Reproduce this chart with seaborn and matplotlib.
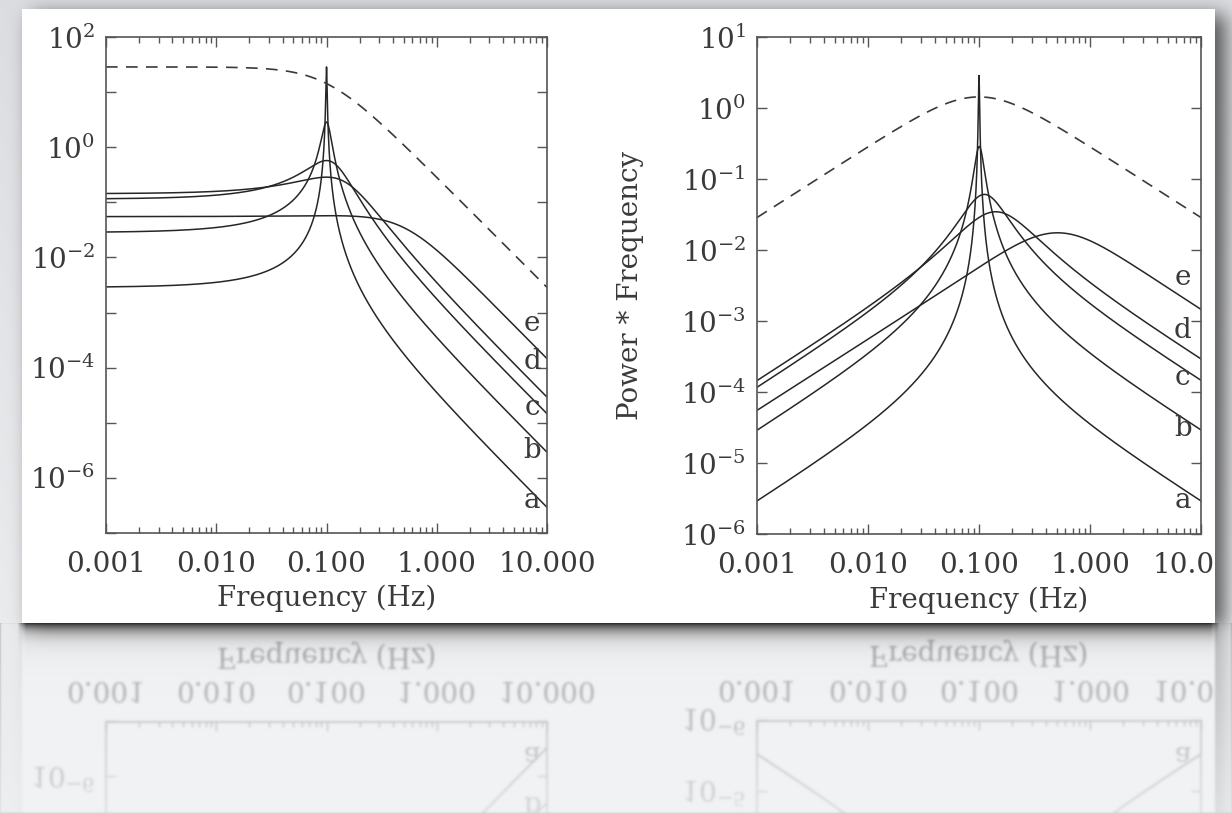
import numpy as np
import pandas as pd
import matplotlib
matplotlib.use("Agg")
import matplotlib.pyplot as plt
from matplotlib.ticker import LogLocator, NullLocator, NullFormatter
import seaborn as sns

# ---------------------------------------------------------------------------
# Lorentzian components a-e (centroid, half width at half maximum, rms^2)
curve_names = ["a", "b", "c", "d", "e"]
centroid_hz = [0.1, 0.1, 0.1, 0.1, 0.1]
half_width_hz = [0.001, 0.01, 0.05, 0.1, 0.5]
rms_squared = [0.09, 0.09, 0.09, 0.09, 0.09]

# zero-centred broad component (dashed)
broad_centroid_hz = 0.0
broad_half_width_hz = 0.1
broad_rms_squared = 9.0

# axes
freq_limits = (1e-3, 1e1)
x_tick_values = [0.001, 0.01, 0.1, 1.0, 10.0]
x_tick_labels = ["0.001", "0.010", "0.100", "1.000", "10.000"]
left_y_exponents = (-7, 2)
left_y_labelled = [2, 0, -2, -4, -6]
right_y_exponents = (-6, 1)
right_y_labelled = [1, 0, -1, -2, -3, -4, -5, -6]
x_label = "Frequency (Hz)"
right_y_label = "Power * Frequency"

# curve tags near the right edge (axes fraction heights)
left_tag_y = [0.066, 0.167, 0.254, 0.345, 0.423]
right_tag_y = [0.068, 0.213, 0.314, 0.410, 0.517]

# ---------------------------------------------------------------------------
W, H = 1232, 813
CARD = dict(left=22, right=1215, top=10, bottom=623)

sns.set_style("ticks")
plt.rcParams["font.family"] = ["DejaVu Serif"]
plt.rcParams["mathtext.fontset"] = "dejavuserif"

INK = "#262626"
FRAME = "#555555"
TEXT = "#3a3a3a"


def lorentzian(nu, nu0, hw, r2):
    return r2 * hw / np.pi / (hw ** 2 + (nu - nu0) ** 2)


freq = np.logspace(np.log10(freq_limits[0]), np.log10(freq_limits[1]), 4001)
rows = []
for name, nu0, hw, r2 in zip(curve_names, centroid_hz, half_width_hz, rms_squared):
    p = lorentzian(freq, nu0, hw, r2)
    rows.append(pd.DataFrame({"curve": name, "freq": freq, "power": p,
                              "nupower": freq * p}))
components = pd.concat(rows, ignore_index=True)
bp = lorentzian(freq, broad_centroid_hz, broad_half_width_hz, broad_rms_squared)
broad = pd.DataFrame({"freq": freq, "power": bp, "nupower": freq * bp})


def gauss_blur(img, sigma):
    r = int(3 * sigma) + 1
    k = np.exp(-0.5 * (np.arange(-r, r + 1) / sigma) ** 2)
    k /= k.sum()
    out = np.apply_along_axis(lambda v: np.convolve(v, k, mode="same"), 0, img)
    out = np.apply_along_axis(lambda v: np.convolve(v, k, mode="same"), 1, out)
    return out


# backdrop: soft grey gradient, drop shadow and the white card
t = np.linspace(0, 1, H)[:, None, None]
top_col = np.array([0.862, 0.866, 0.878])
bot_col = np.array([0.937, 0.941, 0.949])
backdrop = np.repeat((1 - t) * top_col + t * bot_col, W, axis=1)
mask = np.zeros((H, W))
dx, dy = 10, 6
mask[CARD["top"] + dy:CARD["bottom"] + dy, CARD["left"] + dx:CARD["right"] + dx] = 1.0
mask = gauss_blur(mask, 10)
backdrop *= (1 - 0.64 * mask)[..., None]

# tight contact shadow along the card's bottom edge
ys_all = np.arange(H)[:, None]
below = np.clip(ys_all - CARD["bottom"], 0, None)
edge_cols = np.zeros(W)
edge_cols[CARD["left"]:CARD["right"]] = 1.0
edge_cols = np.convolve(edge_cols, np.ones(9) / 9, mode="same")[None, :]
contact = (0.6 * np.exp(-below / 5.0) + 0.12 * np.exp(-below / 16.0)) * edge_cols
contact[:CARD["bottom"]] = 0
backdrop *= (1 - contact)[..., None]
backdrop[CARD["top"]:CARD["bottom"], CARD["left"]:CARD["right"]] = 1.0

fig = plt.figure(figsize=(W / 100, H / 100), dpi=100)
ax_bg = fig.add_axes([0, 0, 1, 1])
ax_bg.imshow(backdrop, aspect="auto", extent=(0, W, H, 0), interpolation="nearest")
ax_bg.set_axis_off()


def frac_box(x0, x1, y0, y1):
    return [x0 / W, (H - y1) / H, (x1 - x0) / W, (y1 - y0) / H]


def style_axes(ax, yexp, labelled):
    ax.set_xscale("log")
    ax.set_yscale("log")
    ax.set_xlim(*freq_limits)
    ax.set_ylim(10.0 ** yexp[0], 10.0 ** yexp[1])
    ax.set_xticks(x_tick_values, labels=x_tick_labels)
    ax.xaxis.set_minor_locator(LogLocator(base=10, subs=np.arange(2, 10)))
    ax.xaxis.set_minor_formatter(NullFormatter())
    exps = list(range(yexp[0], yexp[1] + 1))
    ax.set_yticks([10.0 ** e for e in exps],
                  labels=[f"$10^{{{e}}}$" if e in labelled else "" for e in exps])
    ax.yaxis.set_minor_locator(NullLocator())
    ax.tick_params(which="both", direction="in", top=True, right=True,
                   color=FRAME, width=1.0, labelcolor=TEXT)
    ax.tick_params(which="major", length=7, labelsize=20)
    ax.tick_params(which="minor", length=4)
    ax.tick_params(axis="x", which="major", pad=13)
    ax.tick_params(axis="y", which="major", pad=8)
    for s in ax.spines.values():
        s.set_color(FRAME)
        s.set_linewidth(1.2)
    ax.set_facecolor("white")


panels = [
    (frac_box(106, 547, 37, 533), "power", left_y_exponents, left_y_labelled, left_tag_y, 0.966),
    (frac_box(757, 1201, 37, 534), "nupower", right_y_exponents, right_y_labelled, right_tag_y, 0.959),
]
axes = []
for box, col, yexp, labelled, tags, tag_x in panels:
    ax = fig.add_axes(box)
    style_axes(ax, yexp, labelled)
    sns.lineplot(data=components, x="freq", y=col, units="curve", estimator=None,
                 sort=False, color=INK, lw=1.1, ax=ax, legend=False)
    sns.lineplot(data=broad, x="freq", y=col, estimator=None, sort=False,
                 color=TEXT, lw=1.2, linestyle=(0, (7, 5)), ax=ax, legend=False)
    ax.set_xlim(*freq_limits)
    ax.set_ylim(10.0 ** yexp[0], 10.0 ** yexp[1])
    ax.set_xlabel(x_label, fontsize=20, color=TEXT)
    ax.xaxis.set_label_coords(0.5, -0.105)
    ax.set_ylabel("")
    for name, ty in zip(curve_names, tags):
        ax.text(tag_x, ty, name, transform=ax.transAxes, ha="center", va="center",
                fontsize=20, color=TEXT)
    axes.append(ax)

axes[1].set_ylabel(right_y_label, fontsize=20, color=TEXT)
axes[1].yaxis.set_label_coords(-0.2545, 0.5)

# the card edge trims whatever runs past it on the right
strip_x = CARD["right"]
ax_strip = fig.add_axes([strip_x / W, 0, (W - strip_x) / W, 1])
ax_strip.imshow(backdrop[:, strip_x:], aspect="auto", interpolation="nearest")
ax_strip.set_axis_off()

# mirrored, fading reflection of the card under its bottom edge
fig.canvas.draw()
buf = np.asarray(fig.canvas.buffer_rgba())[:, :, :3].astype(float) / 255.0
y0 = CARD["bottom"]
ys = np.arange(y0, H)
src = np.clip(2 * y0 + 8 - ys, 0, CARD["bottom"] - 1)
mirrored = buf[src]
mirrored = np.stack([gauss_blur(mirrored[..., c], 1.2) for c in range(3)], axis=-1)
alpha = np.linspace(0.40, 0.14, len(ys))[:, None, None]
reflection = backdrop[y0:H] * (1 - alpha) + mirrored * alpha
reflection *= (1 - contact[y0:H])[..., None]
ax_ref = fig.add_axes([0, 0, 1, (H - y0) / H])
ax_ref.imshow(np.clip(reflection, 0, 1), aspect="auto", interpolation="nearest")
ax_ref.set_axis_off()

fig.savefig("out.png", dpi=100)
